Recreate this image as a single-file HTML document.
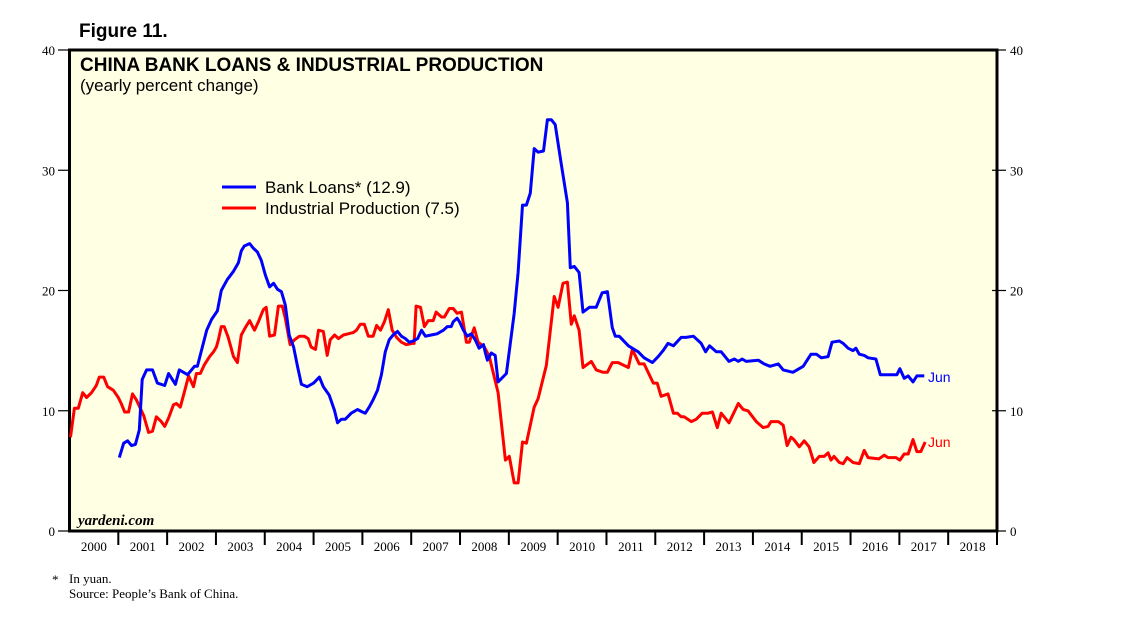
<!DOCTYPE html>
<html><head><meta charset="utf-8">
<style>
html,body{margin:0;padding:0;background:#fff;}
body{width:1138px;height:623px;overflow:hidden;}
svg{display:block;}
</style></head>
<body>
<svg id="chart" width="1138" height="623" xmlns="http://www.w3.org/2000/svg">
  <text x="79" y="37" font-family="Liberation Sans, sans-serif" font-weight="bold" font-size="19" fill="#000">Figure 11.</text>
  <rect x="69.5" y="50" width="927.5" height="481" fill="#FFFFE3" stroke="#000" stroke-width="3"/>
  <text x="80" y="71" font-family="Liberation Sans, sans-serif" font-weight="bold" font-size="19" fill="#000">CHINA BANK LOANS &amp; INDUSTRIAL PRODUCTION</text>
  <text x="80" y="91" font-family="Liberation Sans, sans-serif" font-size="17" fill="#000">(yearly percent change)</text>
  <text x="78" y="525" font-family="Liberation Serif, serif" font-style="italic" font-weight="bold" font-size="15" fill="#000">yardeni.com</text>
  <g id="yaxes"></g>
  <g id="xaxis"></g>
  <g id="series"></g>
  <g>
    <line x1="222" y1="187" x2="256" y2="187" stroke="#0000FF" stroke-width="3"/>
    <text x="265" y="193" font-family="Liberation Sans, sans-serif" font-size="17" fill="#000">Bank Loans* (12.9)</text>
    <line x1="222" y1="208" x2="256" y2="208" stroke="#FF0000" stroke-width="3"/>
    <text x="265" y="214" font-family="Liberation Sans, sans-serif" font-size="17" fill="#000">Industrial Production (7.5)</text>
  </g>
  <text x="928" y="382" font-family="Liberation Sans, sans-serif" font-size="14" fill="#0000FF">Jun</text>
  <text x="928" y="447" font-family="Liberation Sans, sans-serif" font-size="14" fill="#FF0000">Jun</text>
  <text x="52" y="584" font-family="Liberation Serif, serif" font-size="13" fill="#000">*</text>
  <text x="69" y="583" font-family="Liberation Serif, serif" font-size="13" fill="#000">In yuan.</text>
  <text x="69" y="598" font-family="Liberation Serif, serif" font-size="13" fill="#000">Source: People’s Bank of China.</text>
</svg>
<script>
const yTicks = [0, 10, 20, 30, 40];
const yearLabels = ["2000","2001","2002","2003","2004","2005","2006","2007","2008","2009","2010","2011","2012","2013","2014","2015","2016","2017","2018"];
const bankDates = [2001.02,2001.11,2001.19,2001.27,2001.35,2001.43,2001.49,2001.58,2001.70,2001.80,2001.95,2002.03,2002.17,2002.25,2002.42,2002.56,2002.62,2002.81,2002.91,2003.03,2003.11,2003.23,2003.36,2003.46,2003.52,2003.58,2003.69,2003.77,2003.85,2003.93,2004.01,2004.10,2004.18,2004.26,2004.34,2004.42,2004.50,2004.59,2004.67,2004.75,2004.87,2005.00,2005.12,2005.20,2005.32,2005.43,2005.49,2005.57,2005.65,2005.77,2005.90,2006.00,2006.06,2006.14,2006.22,2006.31,2006.39,2006.47,2006.55,2006.63,2006.72,2006.80,2006.88,2006.96,2007.04,2007.13,2007.21,2007.29,2007.41,2007.53,2007.66,2007.74,2007.82,2007.86,2007.94,2007.99,2008.07,2008.15,2008.23,2008.31,2008.39,2008.48,2008.52,2008.56,2008.64,2008.72,2008.78,2008.95,2009.11,2009.19,2009.28,2009.36,2009.44,2009.52,2009.60,2009.71,2009.79,2009.87,2009.95,2010.07,2010.20,2010.26,2010.34,2010.44,2010.52,2010.65,2010.79,2010.91,2011.02,2011.12,2011.18,2011.26,2011.45,2011.65,2011.77,2011.94,2012.06,2012.16,2012.26,2012.37,2012.53,2012.63,2012.78,2012.94,2013.03,2013.11,2013.25,2013.35,2013.51,2013.62,2013.70,2013.78,2013.86,2014.11,2014.23,2014.35,2014.52,2014.62,2014.82,2015.03,2015.19,2015.30,2015.40,2015.54,2015.62,2015.77,2015.85,2015.95,2016.05,2016.11,2016.18,2016.28,2016.36,2016.52,2016.61,2016.89,2016.95,2017.01,2017.10,2017.18,2017.28,2017.36,2017.51];
const bankValues = [6.1,7.3,7.5,7.1,7.2,8.4,12.6,13.4,13.4,12.3,12.1,13.1,12.2,13.4,13.0,13.7,13.7,16.7,17.6,18.3,20.0,20.9,21.6,22.3,23.3,23.7,23.9,23.5,23.2,22.5,21.3,20.3,20.6,20.1,19.9,18.8,16.3,15.3,13.7,12.2,12.0,12.3,12.8,12.0,11.3,10.0,9.0,9.3,9.3,9.8,10.1,9.9,9.8,10.3,10.9,11.7,13.0,14.9,15.9,16.3,16.6,16.2,16.0,15.7,15.8,16.0,16.7,16.2,16.3,16.4,16.7,17.0,17.0,17.4,17.7,17.4,16.7,16.2,16.4,15.9,15.2,15.5,14.8,14.2,14.8,14.6,12.4,13.1,18.1,21.5,27.1,27.1,28.1,31.8,31.5,31.6,34.2,34.2,33.8,30.6,27.3,21.9,22.0,21.5,18.2,18.6,18.6,19.8,19.9,16.9,16.2,16.2,15.4,14.9,14.4,14.0,14.5,15.0,15.6,15.4,16.1,16.1,16.2,15.6,14.9,15.4,14.9,14.9,14.1,14.3,14.1,14.3,14.1,14.2,13.9,13.7,13.9,13.4,13.2,13.7,14.7,14.7,14.4,14.5,15.7,15.8,15.6,15.2,15.0,15.2,14.7,14.6,14.4,14.3,13.0,13.0,13.0,13.5,12.7,12.9,12.4,12.9,12.9];
const ipDates = [2000.02,2000.10,2000.18,2000.27,2000.35,2000.45,2000.55,2000.61,2000.70,2000.78,2000.90,2001.00,2001.06,2001.13,2001.21,2001.29,2001.37,2001.52,2001.62,2001.70,2001.78,2001.88,2001.95,2002.03,2002.13,2002.19,2002.27,2002.35,2002.44,2002.54,2002.60,2002.68,2002.76,2002.87,2002.95,2003.01,2003.05,2003.11,2003.17,2003.25,2003.36,2003.44,2003.52,2003.60,2003.69,2003.79,2003.87,2003.97,2004.03,2004.10,2004.20,2004.28,2004.36,2004.42,2004.52,2004.61,2004.71,2004.81,2004.89,2004.95,2005.04,2005.10,2005.20,2005.28,2005.34,2005.43,2005.51,2005.61,2005.71,2005.81,2005.88,2005.96,2006.04,2006.12,2006.22,2006.29,2006.37,2006.45,2006.53,2006.61,2006.70,2006.80,2006.90,2007.02,2007.06,2007.10,2007.19,2007.27,2007.35,2007.45,2007.51,2007.62,2007.68,2007.78,2007.86,2007.94,2008.03,2008.13,2008.19,2008.29,2008.37,2008.50,2008.60,2008.78,2008.93,2009.01,2009.11,2009.19,2009.28,2009.36,2009.52,2009.60,2009.77,2009.93,2010.01,2010.11,2010.20,2010.28,2010.34,2010.44,2010.52,2010.69,2010.79,2010.93,2011.02,2011.12,2011.24,2011.45,2011.53,2011.67,2011.77,2011.96,2012.04,2012.12,2012.26,2012.37,2012.45,2012.53,2012.59,2012.74,2012.84,2012.96,2013.08,2013.17,2013.27,2013.35,2013.51,2013.70,2013.80,2013.90,2014.07,2014.21,2014.31,2014.37,2014.52,2014.62,2014.70,2014.78,2014.84,2014.95,2015.05,2015.15,2015.25,2015.36,2015.46,2015.54,2015.60,2015.66,2015.77,2015.85,2015.93,2016.05,2016.18,2016.28,2016.36,2016.58,2016.69,2016.77,2016.93,2017.01,2017.10,2017.18,2017.28,2017.36,2017.44,2017.53];
const ipValues = [7.8,10.2,10.2,11.5,11.1,11.5,12.1,12.8,12.8,12.0,11.7,11.1,10.6,9.9,9.9,11.4,10.9,9.6,8.2,8.3,9.5,9.1,8.7,9.4,10.5,10.6,10.3,11.5,12.9,12.0,13.1,13.1,13.8,14.5,14.9,15.3,15.9,17.0,17.0,16.1,14.5,14.0,16.3,16.9,17.5,16.7,17.4,18.4,18.6,16.2,16.3,18.7,18.7,17.7,15.5,15.9,16.2,16.2,16.0,15.3,15.1,16.7,16.6,14.6,15.9,16.3,16.0,16.3,16.4,16.5,16.7,17.2,17.2,16.2,16.2,17.1,16.7,17.4,18.4,16.7,16.1,15.7,15.5,15.6,15.6,18.7,18.6,17.0,17.5,17.5,18.2,17.8,17.8,18.5,18.5,18.1,18.2,15.7,15.7,16.9,15.7,15.3,14.5,11.5,5.9,6.2,4.0,4.0,7.4,7.3,10.3,11.0,13.8,19.5,18.6,20.6,20.7,17.2,17.9,16.7,13.6,14.1,13.4,13.2,13.2,14.0,14.0,13.6,15.1,13.9,13.9,12.3,12.3,11.2,11.4,9.8,9.8,9.5,9.5,9.1,9.3,9.8,9.8,9.9,8.6,9.8,9.0,10.6,10.1,10.0,9.1,8.6,8.7,9.1,9.1,8.8,7.1,7.8,7.6,7.0,7.5,7.0,5.7,6.2,6.2,6.5,5.9,6.2,5.7,5.6,6.1,5.7,5.6,6.7,6.1,6.0,6.3,6.1,6.1,5.9,6.4,6.4,7.6,6.6,6.6,7.4];

const NS = "http://www.w3.org/2000/svg";
const X0 = 69.5, X1 = 997, Y0 = 531, Y1 = 50;
const xScale = t => X0 + (t - 2000) / 19 * (X1 - X0);
const yScale = v => Y0 - v / 40 * (Y0 - Y1);
function mk(tag, attrs, parent) {
  const el = document.createElementNS(NS, tag);
  for (const k in attrs) el.setAttribute(k, attrs[k]);
  parent.appendChild(el);
  return el;
}
const yg = document.getElementById('yaxes');
yTicks.forEach(v => {
  const y = yScale(v);
  const tl = mk('line', {x1: 58, y1: y, x2: 69, y2: y, stroke: '#000', 'stroke-width': 1.2}, yg);
  
  
  const tr = mk('line', {x1: 992, y1: y, x2: 1006, y2: y, stroke: '#000', 'stroke-width': 1.2}, yg);
  
  
  const ll = mk('text', {x: 55, y: y + 5, 'text-anchor': 'end', 'font-family': 'Liberation Serif, serif', 'font-size': 13, fill: '#000'}, yg);
  ll.textContent = v;
  
  
  const rl = mk('text', {x: 1010, y: y + 5, 'font-family': 'Liberation Serif, serif', 'font-size': 13, fill: '#000'}, yg);
  rl.textContent = v;
  
  
});
const xg = document.getElementById('xaxis');
yearLabels.forEach((lab, i) => {
  const yr = 2000 + i;
  const x = xScale(yr);
  if (i > 0) {
    const t = mk('line', {x1: x, y1: Y0, x2: x, y2: 545, stroke: '#000', 'stroke-width': 2}, xg);
    
    
  }
  const tx = mk('text', {x: xScale(yr + 0.5), y: 551, 'text-anchor': 'middle', 'font-family': 'Liberation Serif, serif', 'font-size': 13, fill: '#000'}, xg);
  tx.textContent = lab;
  
  
});
const lastTick = mk('line', {x1: X1, y1: Y0, x2: X1, y2: 545, stroke: '#000', 'stroke-width': 2}, xg);


const sg = document.getElementById('series');
function path(dates, vals) {
  return dates.map((d, i) => (i ? 'L' : 'M') + xScale(d).toFixed(1) + ',' + yScale(vals[i]).toFixed(1)).join(' ');
}
const ip = mk('path', {d: path(ipDates, ipValues), fill: 'none', stroke: '#FF0000', 'stroke-width': 3, 'stroke-linejoin': 'round'}, sg);


const bl = mk('path', {d: path(bankDates, bankValues), fill: 'none', stroke: '#0000FF', 'stroke-width': 3, 'stroke-linejoin': 'round'}, sg);


</script>
</body></html>
